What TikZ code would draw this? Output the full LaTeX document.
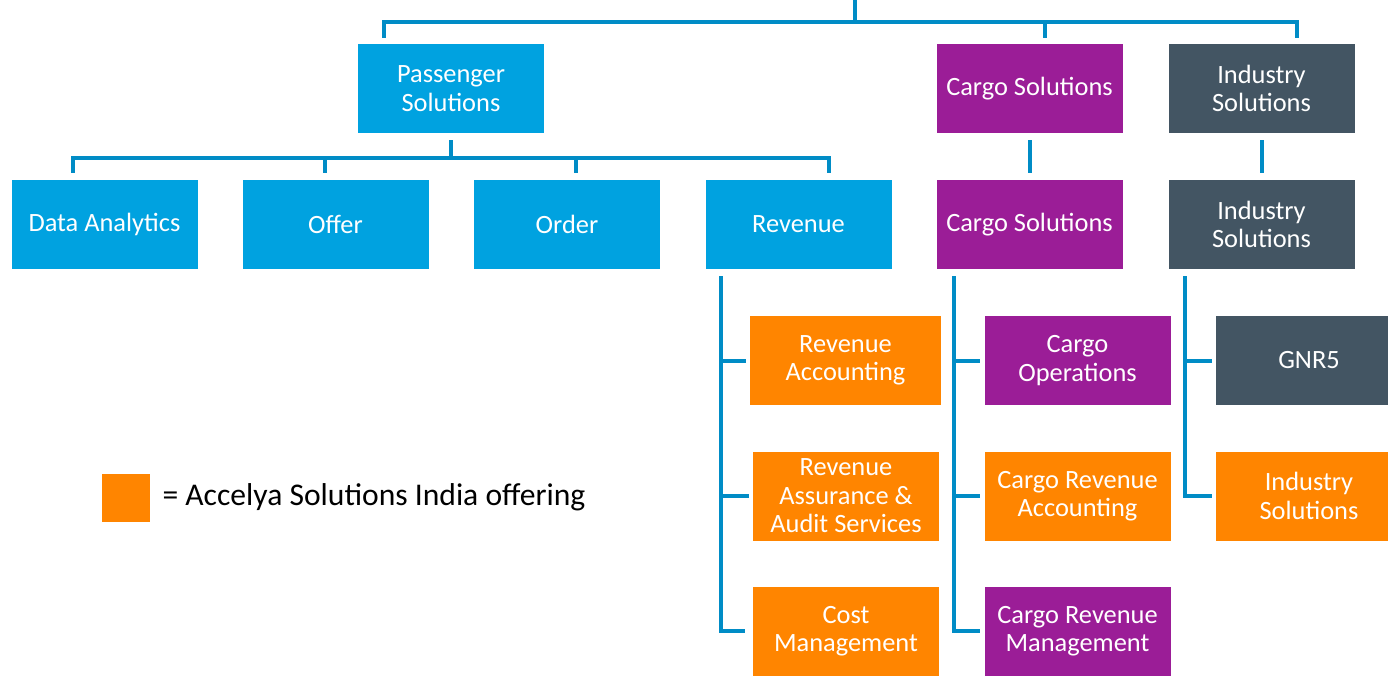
\documentclass[tikz,border=0pt]{standalone}
\usepackage{fontspec}
\setmainfont{Carlito}
\usetikzlibrary{positioning}
\definecolor{paxblue}{RGB}{0,162,224}
\definecolor{cargopurple}{RGB}{155,29,151}
\definecolor{indslate}{RGB}{67,85,99}
\definecolor{asiorange}{RGB}{255,133,0}
\definecolor{linkblue}{RGB}{0,140,198}

\begin{document}
\begin{tikzpicture}[x=0.75pt,y=-0.75pt,
    box/.style={minimum width=139.5pt,minimum height=66.75pt,inner sep=2pt,align=center,
        text=white,font=\fontsize{19.8}{21.3}\selectfont},
    pax/.style={box,fill=paxblue},
    cargo/.style={box,fill=cargopurple},
    ind/.style={box,fill=indslate},
    asi/.style={box,fill=asiorange},
    conn/.style={draw=linkblue,line width=3pt}]
    \useasboundingbox (0,0) rectangle (1388,675);
    \clip (0,0) rectangle (1388,675);
    % top level
    \node[pax] (ps) at (451,88.5) {Passenger\\Solutions};
    \node[cargo] (cs) at (1029.5,88.5) {Cargo Solutions};
    \node[ind] (is) at (1261.5,88.5) {Industry\\Solutions};
    % second level
    \node[pax] (da) at (104.5,224.5) {Data Analytics};
    \node[pax] (offer) at (335.5,224.5) {Offer};
    \node[pax] (order) at (567,224.5) {Order};
    \node[pax] (rev) at (798.5,224.5) {Revenue};
    \node[cargo] (cs2) at (1029.5,224.5) {Cargo Solutions};
    \node[ind] (is2) at (1261.5,224.5) {Industry\\Solutions};
    % third level
    \node[asi,minimum width=143pt] (ra) at (845.5,360.5) {Revenue\\Accounting};
    \node[asi] (raa) at (846,496) {Revenue\\Assurance \&\\Audit Services};
    \node[asi] (cm) at (846,631) {Cost\\Management};
    \node[cargo] (co) at (1077.5,360.5) {Cargo\\Operations};
    \node[asi] (cra) at (1077.5,496) {Cargo Revenue\\Accounting};
    \node[cargo] (crm) at (1077.5,631) {Cargo Revenue\\Management};
    \node[ind] (gnr) at (1309,360.5) {GNR5};
    \node[asi] (is3) at (1309,496) {Industry\\Solutions};
    % legend
    \node[fill=asiorange,minimum size=36pt,inner sep=0pt] (key) at (126,497.5) {};
    \node[right=9pt of key,inner sep=0pt,font=\fontsize{23.7}{28}\selectfont] (keytext) {= Accelya Solutions India offering};
    % connectors
    \coordinate (root) at (855,0);
    \draw[conn] (root) -- ++(0,22) coordinate (topbar);
    \draw[conn] ([shift={(-67,-6)}]ps.north) |- (topbar) -| ([shift={(15.5,-6)}]cs.north);
    \draw[conn] (topbar) -| ([shift={(35.5,-6)}]is.north);
    \draw[conn] ([shift={(0,7)}]ps.south) -- ++(0,18) coordinate (paxbar);
    \draw[conn] ([shift={(-31.5,-7)}]da.north) |- (paxbar) -| ([shift={(30.5,-7)}]rev.north);
    \draw[conn] ([shift={(-10.5,-7)}]offer.north) -- ++(0,-15);
    \draw[conn] ([shift={(9,-7)}]order.north) -- ++(0,-15);
    \draw[conn] ([shift={(0,7)}]cs.south) -- ([shift={(0,-7)}]cs2.north);
    \draw[conn] ([shift={(0,7)}]is.south) -- ([shift={(0,-7)}]is2.north);
    \draw[conn] ([shift={(16,7)}]rev.south west) coordinate (revtrunk) |- ([xshift=-6pt]cm.west);
    \foreach \k in {ra,raa}
        \draw[conn] (revtrunk |- \k.west) -- ([xshift=-3pt]\k.west);
    \draw[conn] ([shift={(18,7)}]cs2.south west) coordinate (cargotrunk) |- ([xshift=-3pt]crm.west);
    \foreach \k in {co,cra}
        \draw[conn] (cargotrunk |- \k.west) -- ([xshift=-3pt]\k.west);
    \draw[conn] ([shift={(17,7)}]is2.south west) coordinate (indtrunk) |- ([xshift=-3pt]is3.west);
    \draw[conn] (indtrunk |- gnr.west) -- ([xshift=-3pt]gnr.west);
\end{tikzpicture}
\end{document}
